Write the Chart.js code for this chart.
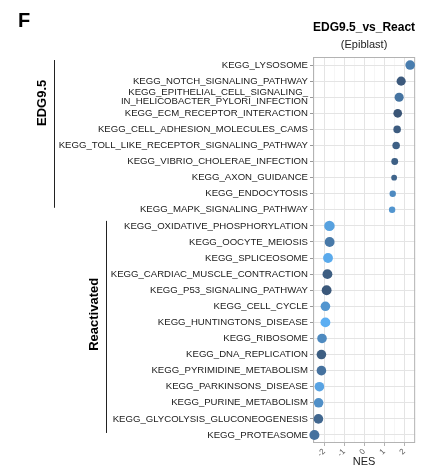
<!DOCTYPE html>
<html>
<head>
<meta charset="utf-8">
<script src="https://cdn.jsdelivr.net/npm/chart.js@4"></script>
<style>
  html, body { margin: 0; padding: 0; background: #fff; }
</style>
</head>
<body>
<canvas id="myChart" width="422" height="470"></canvas>
<script>
// pathways, top to bottom
const pathways = [
  "KEGG_LYSOSOME",
  "KEGG_NOTCH_SIGNALING_PATHWAY",
  ["KEGG_EPITHELIAL_CELL_SIGNALING_", "IN_HELICOBACTER_PYLORI_INFECTION"],
  "KEGG_ECM_RECEPTOR_INTERACTION",
  "KEGG_CELL_ADHESION_MOLECULES_CAMS",
  "KEGG_TOLL_LIKE_RECEPTOR_SIGNALING_PATHWAY",
  "KEGG_VIBRIO_CHOLERAE_INFECTION",
  "KEGG_AXON_GUIDANCE",
  "KEGG_ENDOCYTOSIS",
  "KEGG_MAPK_SIGNALING_PATHWAY",
  "KEGG_OXIDATIVE_PHOSPHORYLATION",
  "KEGG_OOCYTE_MEIOSIS",
  "KEGG_SPLICEOSOME",
  "KEGG_CARDIAC_MUSCLE_CONTRACTION",
  "KEGG_P53_SIGNALING_PATHWAY",
  "KEGG_CELL_CYCLE",
  "KEGG_HUNTINGTONS_DISEASE",
  "KEGG_RIBOSOME",
  "KEGG_DNA_REPLICATION",
  "KEGG_PYRIMIDINE_METABOLISM",
  "KEGG_PARKINSONS_DISEASE",
  "KEGG_PURINE_METABOLISM",
  "KEGG_GLYCOLYSIS_GLUCONEOGENESIS",
  "KEGG_PROTEASOME"
];

const nes = [2.3, 1.85, 1.75, 1.68, 1.65, 1.6, 1.53, 1.5, 1.43, 1.4,
  -1.73, -1.72, -1.8, -1.83, -1.87, -1.93, -1.93, -2.1, -2.13, -2.13,
  -2.23, -2.27, -2.28, -2.48];

// gene set size (dot area)
const setSize = [100, 87, 87, 75, 49, 49, 36, 19, 28, 28,
  128, 107, 107, 107, 107, 100, 107, 100, 100, 100, 100, 100, 100, 114];

// adjusted p rank, 0 = dark, 1 = light
const pShade = [0.45, 0.05, 0.35, 0.0, 0.08, 0.12, 0.12, 0.18, 0.6, 0.72,
  0.85, 0.4, 0.95, 0.1, 0.03, 0.72, 1.0, 0.6, 0.1, 0.32, 0.88, 0.65, 0.2, 0.32];

const nesTicks = [-2.5, -2, -1.5, -1, -0.5, 0, 0.5, 1, 1.5, 2, 2.5];

const groups = [
  { name: "EDG9.5", from: 0, to: 9, labelRow: 2.35 },
  { name: "Reactivated", from: 10, to: 23, labelRow: 15.5 }
];

const FONT = "'Liberation Sans', Arial, Helvetica, sans-serif";
const LABEL_SIZE = 9.6;

function shade(t) {
  const a = [58, 85, 118], b = [92, 174, 242];
  const c = a.map((v, i) => Math.round(v + (b[i] - v) * t));
  return "rgb(" + c.join(",") + ")";
}

function dotRadius(n) {
  return 1.4 + Math.sqrt(n) * 0.34;
}

// panel border, titles and group brackets
const decor = {
  id: "decor",
  beforeDatasetsDraw(chart) {
    const { ctx, chartArea: ca } = chart;
    ctx.save();
    ctx.strokeStyle = "#b3b3b3";
    ctx.lineWidth = 1;
    ctx.strokeRect(ca.left + 0.5, ca.top + 0.5, ca.width - 1, ca.height - 1);
    ctx.restore();
  },
  afterDraw(chart) {
    const { ctx, chartArea: ca } = chart;
    const y = chart.scales.y;
    ctx.save();
    ctx.fillStyle = "#000";
    ctx.textAlign = "left";
    ctx.textBaseline = "alphabetic";
    ctx.font = "bold 20px " + FONT;
    ctx.fillText("F", 18, 27);

    const cx = (ca.left + ca.right) / 2;
    ctx.textAlign = "center";
    ctx.font = "bold 12px " + FONT;
    ctx.fillText("EDG9.5_vs_React", cx, 31);
    ctx.font = "11px " + FONT;
    ctx.fillStyle = "#222";
    ctx.fillText("(Epiblast)", cx, 48);

    // brackets
    groups.forEach(g => {
      ctx.font = LABEL_SIZE + "px " + FONT;
      let w = 0;
      for (let i = g.from; i <= g.to; i++) {
        [].concat(pathways[i]).forEach(s => { w = Math.max(w, ctx.measureText(s).width); });
      }
      const lx = Math.round(ca.left - 5 - w - 5) + 0.5;
      const y0 = y.getPixelForValue(g.from) - 5;
      const y1 = y.getPixelForValue(g.to) - 2;
      ctx.strokeStyle = "#222";
      ctx.lineWidth = 1;
      ctx.beginPath();
      ctx.moveTo(lx, y0);
      ctx.lineTo(lx, y1);
      ctx.stroke();

      ctx.save();
      ctx.translate(lx - 6, y.getPixelForValue(g.labelRow));
      ctx.rotate(-Math.PI / 2);
      ctx.font = "bold 13px " + FONT;
      ctx.fillStyle = "#000";
      ctx.textAlign = "center";
      ctx.textBaseline = "bottom";
      ctx.fillText(g.name, 0, 0);
      ctx.restore();
    });
    ctx.restore();
  }
};

const ctx = document.getElementById("myChart");
new Chart(ctx, {
  type: "scatter",
  data: {
    datasets: [{
      data: nes.map((v, i) => ({ x: v, y: i })),
      pointRadius: setSize.map(dotRadius),
      pointHoverRadius: setSize.map(dotRadius),
      backgroundColor: pShade.map(shade),
      borderWidth: 0,
      clip: false
    }]
  },
  options: {
    responsive: false,
    animation: false,
    layout: { padding: { top: 57, right: 4, left: 0, bottom: 0 } },
    plugins: {
      legend: { display: false },
      tooltip: { enabled: false }
    },
    scales: {
      x: {
        type: "linear",
        min: -2.55,
        max: 2.55,
        afterBuildTicks: s => { s.ticks = nesTicks.map(v => ({ value: v })); },
        afterFit: s => { s.height = 27; },
        border: { display: false },
        grid: {
          color: c => Number.isInteger(c.tick.value) ? "#e4e4e4" : "#f0f0f0",
          lineWidth: c => Number.isInteger(c.tick.value) ? 1 : 0.6,
          tickColor: c => Number.isInteger(c.tick.value) ? "#b3b3b3" : "rgba(0,0,0,0)",
          tickLength: 3
        },
        ticks: {
          autoSkip: false,
          minRotation: 45,
          maxRotation: 45,
          padding: 1,
          color: "#555",
          font: { family: FONT, size: 8 },
          callback: v => Number.isInteger(v) ? String(v) : ""
        },
        title: {
          display: true,
          text: "NES",
          color: "#222",
          font: { family: FONT, size: 11 },
          padding: { top: 0, bottom: 1 }
        }
      },
      y: {
        type: "linear",
        reverse: true,
        min: -0.5,
        max: 23.5,
        afterBuildTicks: s => { s.ticks = pathways.map((p, i) => ({ value: i })); },
        afterFit: s => { s.width = 313; },
        border: { display: false },
        grid: {
          color: "#e4e4e4",
          lineWidth: 1,
          tickColor: "#999",
          tickLength: 3
        },
        ticks: {
          autoSkip: false,
          padding: 2,
          color: "#1a1a1a",
          font: { family: FONT, size: LABEL_SIZE, lineHeight: 0.92 },
          callback: v => pathways[v]
        }
      }
    }
  },
  plugins: [decor]
});
</script>
</body>
</html>
